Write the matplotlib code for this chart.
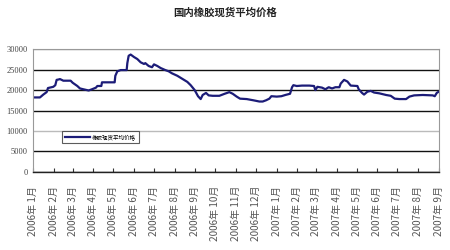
import matplotlib
matplotlib.use("Agg")
import matplotlib.pyplot as plt
import matplotlib.dates as mdates
import pandas as pd

plt.rcParams['font.family'] = ['Noto Sans CJK SC', 'DejaVu Sans']

title = "国内橡胶现货平均价格"
series_name = "橡胶现货平均价格"

dates = [
    "2006-01-01", "2006-01-11", "2006-01-16", "2006-01-21", "2006-01-23", "2006-01-31",
    "2006-02-03", "2006-02-05", "2006-02-08", "2006-02-10", "2006-02-15", "2006-02-26",
    "2006-03-01", "2006-03-08", "2006-03-12", "2006-03-17", "2006-03-25", "2006-03-30",
    "2006-04-05", "2006-04-07", "2006-04-13", "2006-04-14", "2006-05-03", "2006-05-04",
    "2006-05-07", "2006-05-12", "2006-05-21", "2006-05-22", "2006-05-24", "2006-05-27",
    "2006-06-01", "2006-06-06", "2006-06-11", "2006-06-16", "2006-06-18", "2006-06-23",
    "2006-06-28", "2006-07-01", "2006-07-06", "2006-07-11", "2006-07-18", "2006-07-23",
    "2006-07-28", "2006-08-05", "2006-08-10", "2006-08-15", "2006-08-20", "2006-08-25",
    "2006-08-31", "2006-09-05", "2006-09-09", "2006-09-12", "2006-09-17", "2006-09-21",
    "2006-09-27", "2006-10-07", "2006-10-15", "2006-10-22", "2006-10-27", "2006-11-02",
    "2006-11-07", "2006-11-17", "2006-11-27", "2006-12-06", "2006-12-11", "2006-12-16",
    "2006-12-21", "2006-12-24", "2007-01-01", "2007-01-08", "2007-01-14", "2007-01-21",
    "2007-01-24", "2007-01-26", "2007-01-31", "2007-02-08", "2007-02-19", "2007-02-26",
    "2007-02-28", "2007-03-03", "2007-03-10", "2007-03-15", "2007-03-20", "2007-03-25",
    "2007-03-30", "2007-04-05", "2007-04-07", "2007-04-12", "2007-04-17", "2007-04-22",
    "2007-05-02", "2007-05-04", "2007-05-09", "2007-05-12", "2007-05-17", "2007-05-22",
    "2007-05-27", "2007-06-04", "2007-06-14", "2007-06-21", "2007-06-27", "2007-07-04",
    "2007-07-14", "2007-07-19", "2007-07-26", "2007-08-08", "2007-08-23", "2007-08-26",
    "2007-08-29", "2007-09-01",
]
prices = [
    18200, 18200, 18900, 19500, 20500, 20800,
    21200, 22500, 22600, 22700, 22300, 22300,
    21800, 21000, 20400, 20200, 19900, 20200,
    20600, 21000, 21000, 21900, 21900, 23500,
    24600, 24900, 24900, 26600, 28400, 28700,
    28100, 27600, 26800, 26400, 26600, 25900,
    25600, 26300, 25900, 25400, 24900, 24600,
    24100, 23500, 23000, 22500, 22000, 21200,
    20000, 18500, 17800, 18800, 19300, 18700,
    18600, 18600, 19100, 19500, 19100, 18400,
    17900, 17800, 17500, 17200, 17200, 17500,
    17900, 18500, 18400, 18500, 18800, 19100,
    20700, 21200, 21000, 21100, 21100, 21000,
    20000, 20800, 20600, 20200, 20700, 20400,
    20700, 20700, 21600, 22500, 22100, 21100,
    21000, 20200, 19300, 18900, 19600, 19800,
    19400, 19200, 18800, 18600, 17900, 17800,
    17800, 18400, 18700, 18800, 18700, 18500,
    19300, 19600,
]
month_ticks = pd.date_range("2006-01-01", "2007-09-01", freq="MS")
month_labels = [f"{d.year}年 {d.month}月" for d in month_ticks]
y_ticks = [0, 5000, 10000, 15000, 20000, 25000, 30000]

x = pd.to_datetime(dates)

fig = plt.figure(figsize=(4.5, 2.5), dpi=100)
ax = fig.add_axes([0.074, 0.313, 0.901, 0.490])

ax.plot(x, prices, color="#1c1c78", lw=1.6, label=series_name)

ax.set_xlim(month_ticks[0], month_ticks[-1])
ax.set_ylim(0, 30000)
ax.set_yticks(y_ticks)
ax.set_yticklabels([str(v) for v in y_ticks], fontsize=6, color="#444444",
                   family=["Liberation Serif"])
ax.set_xticks(month_ticks)
ax.set_xticklabels(month_labels, rotation=90, fontsize=7.2, color="#555555",
                   va="top", ha="center")
ax.tick_params(axis="x", direction="in", length=3, pad=10, color="#333333")
ax.tick_params(axis="y", length=0, pad=4)

ax.grid(axis="y", color="#111111", lw=1.0)
grid_colors = ["#111111", "#111111", "#bbbbbb", "#111111", "#111111", "#111111", "#999999"]
for gl, c in zip(ax.yaxis.get_gridlines(), grid_colors):
    gl.set_color(c)
ax.set_axisbelow(True)

for side in ["top", "right", "left"]:
    ax.spines[side].set_color("#999999")
    ax.spines[side].set_linewidth(0.8)
ax.spines["bottom"].set_color("#222222")
ax.spines["bottom"].set_linewidth(1.0)

leg = ax.legend(loc="lower left", bbox_to_anchor=(0.071, 0.234), fontsize=4,
                frameon=True, fancybox=False, edgecolor="#333333",
                handlelength=4.5, handletextpad=0.3, borderpad=0.6,
                borderaxespad=0)
leg.get_frame().set_linewidth(0.8)

fig.text(0.5, 0.95, title, ha="center", va="center", fontsize=7.5,
         color="#222222", fontweight="bold")

fig.savefig("out.png", dpi=100, facecolor="white")
